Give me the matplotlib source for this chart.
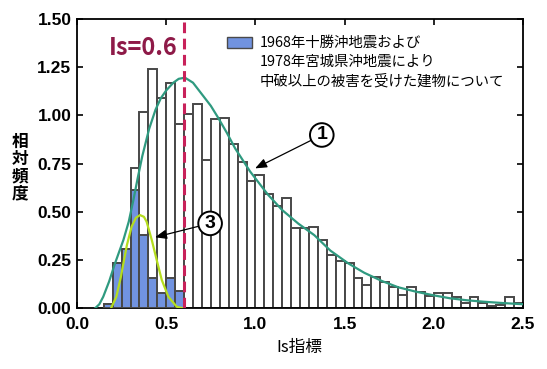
import matplotlib
matplotlib.use("Agg")

import numpy as np
import matplotlib.pyplot as plt
from matplotlib.patches import Rectangle

# histogram bins (left edges, width 0.05)
bin_width = 0.05
bin_left = np.round(np.arange(0.15, 2.50, bin_width), 2)

# all buildings (white bars)
freq_all = [0.022, 0.234, 0.31, 0.73, 1.02, 1.24, 1.09, 1.17, 0.955,
            1.01, 1.06, 0.77, 0.98, 0.985, 0.85, 0.757, 0.66, 0.69, 0.595,
            0.533, 0.57, 0.419, 0.419, 0.424, 0.353, 0.275, 0.248, 0.237,
            0.158, 0.121, 0.165, 0.139, 0.113, 0.07, 0.113, 0.087, 0.066,
            0.079, 0.079, 0.058, 0.027, 0.058, 0.027, 0.013, 0.017, 0.058,
            0.027]

# damaged buildings (blue bars)
damaged_left = [0.15, 0.20, 0.25, 0.30, 0.35, 0.40, 0.45, 0.50, 0.55]
freq_damaged = [0.022, 0.234, 0.31, 0.614, 0.38, 0.156, 0.079, 0.156, 0.09]

# fitted curve (1)
curve1_x = [0.10, 0.125, 0.147, 0.18, 0.213, 0.26, 0.29, 0.316, 0.34,
            0.366, 0.404, 0.44, 0.47, 0.50, 0.54, 0.57, 0.605, 0.65, 0.70,
            0.75, 0.79, 0.84, 0.886, 0.97, 1.07, 1.15, 1.24, 1.33, 1.42,
            1.52, 1.61, 1.71, 1.80, 1.90, 2.00, 2.09, 2.18, 2.28, 2.39,
            2.50]
curve1_y = [0.0, 0.022, 0.061, 0.14, 0.234, 0.355, 0.45, 0.562, 0.675,
            0.79, 0.93, 1.03, 1.09, 1.13, 1.17, 1.19, 1.196, 1.17, 1.11,
            1.05, 0.99, 0.91, 0.83, 0.71, 0.59, 0.51, 0.44, 0.38, 0.30,
            0.234, 0.185, 0.142, 0.11, 0.087, 0.068, 0.053, 0.043, 0.035,
            0.028, 0.022]

# fitted curve (3)
curve3_x = [0.19, 0.22, 0.245, 0.26, 0.28, 0.306, 0.33, 0.353, 0.375,
            0.39, 0.419, 0.447, 0.475, 0.512, 0.559, 0.60]
curve3_y = [0.0, 0.06, 0.16, 0.234, 0.33, 0.424, 0.47, 0.484, 0.475,
            0.45, 0.355, 0.25, 0.148, 0.061, 0.009, 0.0]

is_threshold = 0.6

legend_lines = ["1968年十勝沖地震および",
                "1978年宮城県沖地震により",
                "中破以上の被害を受けた建物について"]

cjk = ["Noto Sans CJK JP", "DejaVu Sans"]
num_font = "Liberation Sans"

fig = plt.figure(figsize=(5.47, 3.69), dpi=100)
ax = fig.add_axes([0.1408, 0.164, 0.8154, 0.7845])

ax.bar(bin_left, freq_all, width=bin_width, align="edge", color="white",
       edgecolor="#484848", linewidth=1.4, zorder=2)
ax.bar(damaged_left, freq_damaged, width=bin_width, align="edge",
       color="#7193e0", edgecolor="#484848", linewidth=1.4, zorder=3)

ax.plot(curve1_x, curve1_y, color="#2f9a80", linewidth=1.6, zorder=5)
ax.plot(curve3_x, curve3_y, color="#b5dd1e", linewidth=1.6, zorder=6)

ax.axvline(is_threshold, color="#c8215a", linewidth=2.2,
           linestyle=(0, (3.5, 1.8)), zorder=7)
ax.text(0.148, 0.899, "Is=0.6", transform=ax.transAxes, ha="center",
        va="center", fontsize=17, fontweight="bold", color="#8e1a48",
        family=cjk, zorder=8)

# legend drawn by hand
ax.add_patch(Rectangle((0.3357, 0.899), 0.056, 0.038, transform=ax.transAxes,
                       facecolor="#7193e0", edgecolor="#4a4a4a",
                       linewidth=1.0, zorder=8))
for i, line in enumerate(legend_lines):
    ax.text(0.409, 0.917 - i * 0.0656, line, transform=ax.transAxes,
            ha="left", va="center", fontsize=10.4, family=cjk, zorder=8)

# circled labels with arrows
circ = dict(boxstyle="circle,pad=0.17", fc="white", ec="black", lw=1.4)
arrow = dict(arrowstyle="-|>,head_length=0.5,head_width=0.2", color="black",
             lw=0.9, shrinkA=0, shrinkB=0)
ax.annotate("1", xy=(0.998, 0.726), xytext=(1.372, 0.899), ha="center",
            va="center", fontsize=14, fontweight="bold", family=num_font,
            bbox=circ, arrowprops=arrow, zorder=9)
ax.annotate("3", xy=(0.437, 0.369), xytext=(0.746, 0.441), ha="center",
            va="center", fontsize=14, fontweight="bold", family=num_font,
            bbox=circ, arrowprops=arrow, zorder=9)

ax.set_xlim(0, 2.5)
ax.set_ylim(0, 1.5)
ax.set_xticks(np.arange(0, 2.51, 0.5))
ax.set_yticks(np.arange(0, 1.51, 0.25))
ax.set_xticklabels([f"{v:.1f}" for v in np.arange(0, 2.51, 0.5)])
ax.set_yticklabels([f"{v:.2f}" for v in np.arange(0, 1.51, 0.25)])
ax.tick_params(direction="in", length=4, width=1.2, top=True, right=True,
               labelsize=12.5)
ax.tick_params(axis="x", pad=6)
ax.tick_params(axis="y", pad=4)
for lab in ax.get_xticklabels() + ax.get_yticklabels():
    lab.set_fontweight("bold")
    lab.set_family(num_font)
for sp in ax.spines.values():
    sp.set_linewidth(1.3)

fig.text(0.548, 0.058, "Is指標", ha="center", va="center", fontsize=12,
         family=cjk)
fig.text(0.037, 0.546, "相\n対\n頻\n度", ha="center", va="center",
         fontsize=12, fontweight="bold", family=cjk, linespacing=0.95)

fig.savefig("out.png", dpi=100)
plt.close(fig)
